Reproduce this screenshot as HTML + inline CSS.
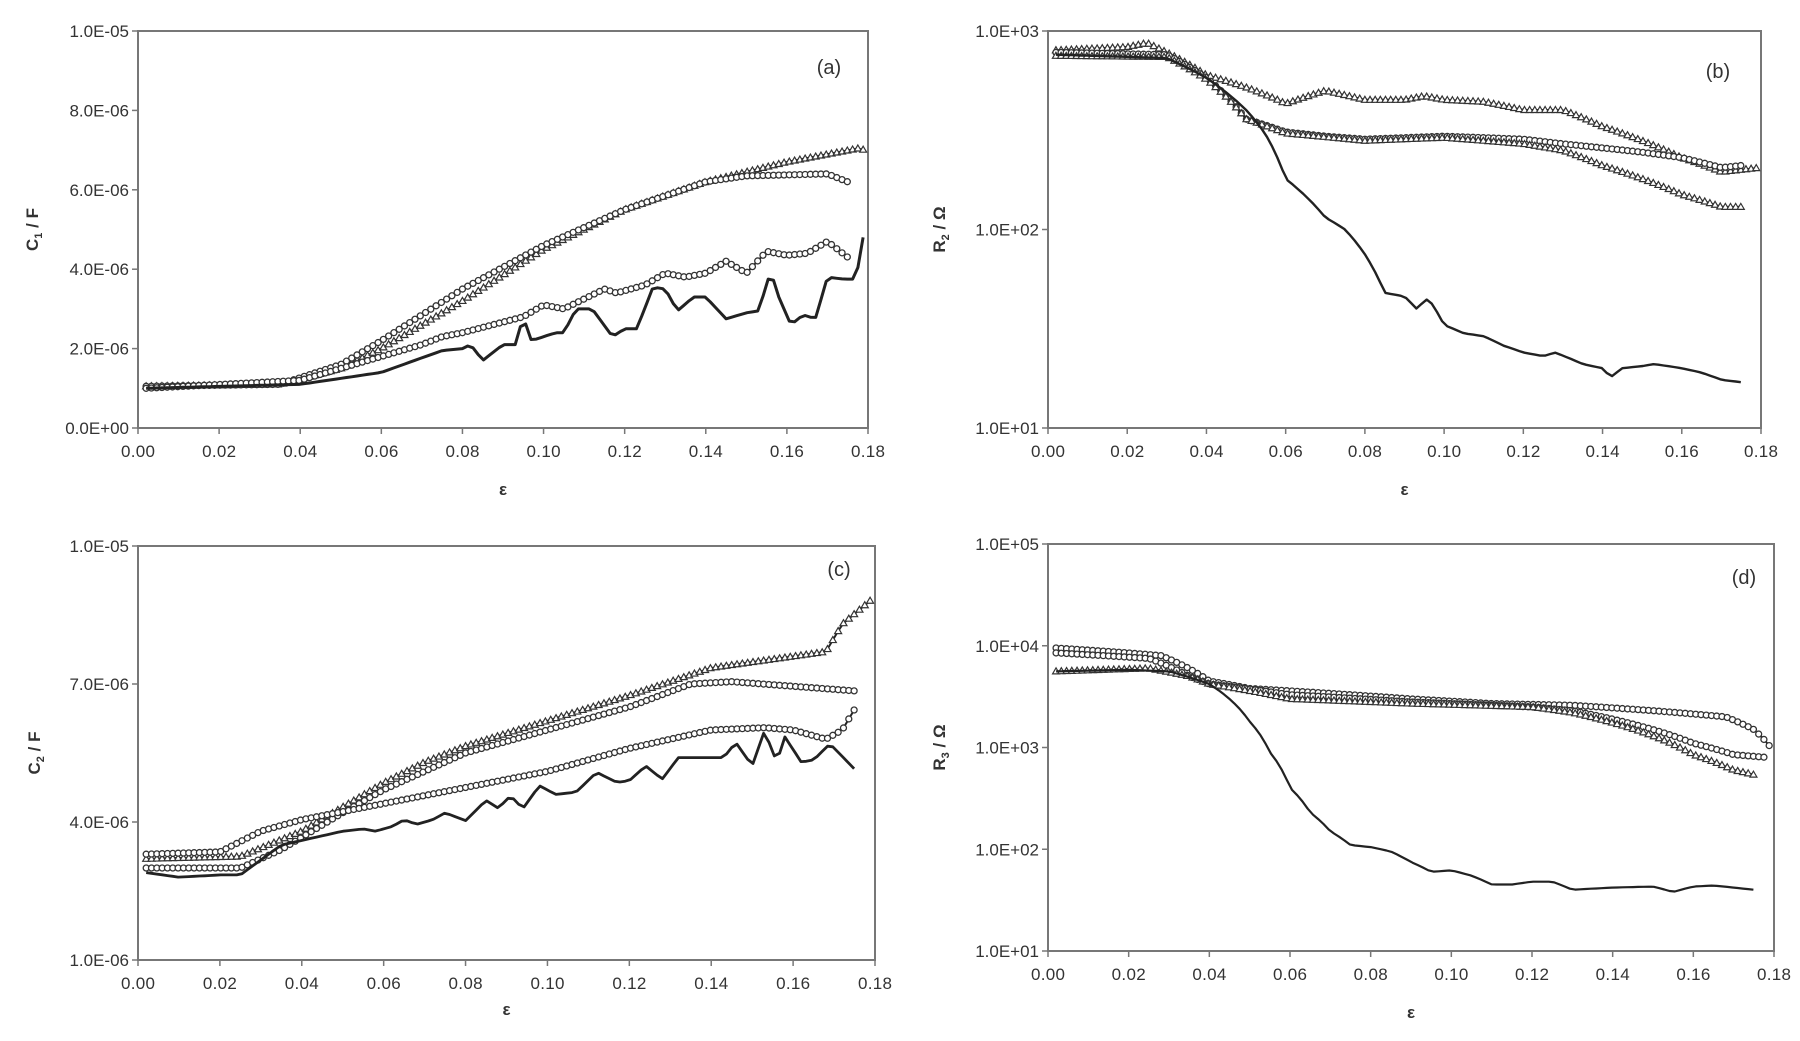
<!DOCTYPE html>
<html><head><meta charset="utf-8"><style>
html,body{margin:0;padding:0;background:#fff;}
svg{display:block;}
text{font-family:"Liberation Sans",Arial,sans-serif;fill:#333;}
</style></head><body>
<svg id="s" width="1800" height="1041" viewBox="0 0 1800 1041" xmlns="http://www.w3.org/2000/svg"></svg>
<script>
var NS="http://www.w3.org/2000/svg",S=document.getElementById('s');
function el(t,a,txt){var e=document.createElementNS(NS,t);for(var k in a)e.setAttribute(k,a[k]);if(txt!==undefined)e.textContent=txt;S.appendChild(e);return e;}
function interp(pts,x){for(var i=0;i<pts.length-1;i++){if(x>=pts[i][0]&&x<=pts[i+1][0]){var t=(x-pts[i][0])/(pts[i+1][0]-pts[i][0]);return pts[i][1]+t*(pts[i+1][1]-pts[i][1]);}}return pts[pts.length-1][1];}
function panel(P){
 var L=P.l,R=P.r,T=P.t,B=P.b;
 function X(x){return L+(x/0.18)*(R-L);}
 function Y(y){if(P.log){var a=Math.log10(P.y0),b=Math.log10(P.y1);return B-(Math.log10(y)-a)/(b-a)*(B-T);}return B-(y-P.y0)/(P.y1-P.y0)*(B-T);}
 el('rect',{x:L,y:T,width:R-L,height:B-T,fill:'none',stroke:'#777','stroke-width':2});
 for(var i=0;i<=9;i++){var x=X(i*0.02);el('line',{x1:x,y1:B,x2:x,y2:B+6,stroke:'#777','stroke-width':1.5});
  el('text',{x:x,y:B+29,'text-anchor':'middle','font-size':17,'textLength':34},(i*0.02).toFixed(2));}
 P.ticks.forEach(function(t){var y=Y(t[0]);el('line',{x1:L-6,y1:y,x2:L,y2:y,stroke:'#777','stroke-width':1.5});
  el('text',{x:L-9,y:y+6,'text-anchor':'end','font-size':17},t[1]);});
 el('text',{x:(L+R)/2,y:P.xl,'text-anchor':'middle','font-size':17,'font-weight':'bold'},'ε');
 var g=el('text',{x:0,y:0,'font-size':17,'font-weight':'bold','text-anchor':'middle',transform:'translate('+P.yx+','+((T+B)/2)+') rotate(-90)'});
 g.innerHTML=P.yl;
 el('text',{x:P.tx,y:P.ty,'font-size':20,'text-anchor':'middle'},P.tag);
 P.series.forEach(function(s){
  var pts=s.p,x0=pts[0][0],x1=pts[pts.length-1][0],d='',mk=[];
  for(var x=x0;x<=x1+1e-9;x+=0.0013){var y=interp(pts,x);d+=(d?'L':'M')+X(x).toFixed(1)+','+Y(y).toFixed(1);mk.push([X(x),Y(y)]);}
  el('path',{d:d,fill:'none',stroke:'#222','stroke-width':s.w||2,'stroke-linejoin':'round'});
  if(s.m){mk.forEach(function(m,i){
   if(s.m=='o')el('circle',{cx:m[0],cy:m[1],r:3,fill:'#fff',stroke:'#333','stroke-width':1.3});
   else el('path',{d:'M'+m[0]+','+(m[1]-3.5)+'l3.5,6h-7z',fill:'#fff',stroke:'#333','stroke-width':1.2});});}
 });
}
panel({l:138,r:868,t:31,b:428,y0:0,y1:10,ticks:[[0,'0.0E+00'],[2,'2.0E-06'],[4,'4.0E-06'],[6,'6.0E-06'],[8,'8.0E-06'],[10,'1.0E-05']],
 xl:495,yx:38,yl:'C<tspan font-size="11" dy="4">1</tspan><tspan dy="-4"> / F</tspan>',tx:829,ty:74,tag:'(a)',
 series:[
 {m:'t',p:[[0.002,1.05],[0.035,1.1],[0.05,1.5],[0.06,2.0],[0.08,3.2],[0.10,4.5],[0.12,5.5],[0.14,6.2],[0.16,6.7],[0.178,7.05],[0.18,6.95]]},
 {m:'o',p:[[0.002,1.05],[0.035,1.1],[0.05,1.6],[0.06,2.2],[0.08,3.5],[0.10,4.6],[0.12,5.5],[0.14,6.2],[0.15,6.35],[0.17,6.4],[0.175,6.2]]},
 {m:'o',p:[[0.002,1.0],[0.04,1.2],[0.06,1.8],[0.07,2.1],[0.075,2.3],[0.08,2.4],[0.095,2.8],[0.1,3.1],[0.105,3.0],[0.115,3.5],[0.118,3.4],[0.125,3.6],[0.13,3.9],[0.135,3.8],[0.14,3.9],[0.145,4.2],[0.15,3.9],[0.155,4.45],[0.16,4.35],[0.165,4.4],[0.17,4.7],[0.175,4.3]]},
 {w:3,p:[[0.002,1.0],[0.04,1.1],[0.06,1.4],[0.075,1.95],[0.08,2.0],[0.082,2.1],[0.085,1.7],[0.09,2.1],[0.093,2.1],[0.095,2.8],[0.097,2.2],[0.103,2.4],[0.105,2.4],[0.108,3.0],[0.112,3.0],[0.117,2.3],[0.12,2.5],[0.123,2.5],[0.127,3.55],[0.13,3.5],[0.133,2.95],[0.137,3.3],[0.14,3.3],[0.145,2.75],[0.15,2.9],[0.153,2.95],[0.156,3.95],[0.158,3.3],[0.161,2.6],[0.164,2.85],[0.167,2.75],[0.17,3.8],[0.174,3.75],[0.177,3.75],[0.18,5.5]]}
 ]});
panel({l:1048,r:1761,t:31,b:428,log:1,y0:10,y1:1000,ticks:[[10,'1.0E+01'],[100,'1.0E+02'],[1000,'1.0E+03']],
 xl:495,yx:945,yl:'R<tspan font-size="11" dy="4">2</tspan><tspan dy="-4"> / Ω</tspan>',tx:1718,ty:78,tag:'(b)',
 series:[
 {m:'t',p:[[0.002,800],[0.02,830],[0.025,870],[0.03,780],[0.04,600],[0.05,520],[0.058,450],[0.06,430],[0.07,500],[0.08,450],[0.09,450],[0.095,470],[0.1,450],[0.11,440],[0.12,400],[0.13,400],[0.14,330],[0.15,280],[0.16,230],[0.17,195],[0.18,205]]},
 {m:'o',p:[[0.002,780],[0.03,760],[0.04,580],[0.05,360],[0.06,310],[0.07,295],[0.08,285],[0.1,295],[0.12,285],[0.13,270],[0.15,245],[0.16,230],[0.17,205],[0.175,210]]},
 {m:'t',p:[[0.002,750],[0.03,740],[0.04,570],[0.05,360],[0.06,305],[0.08,280],[0.1,290],[0.12,270],[0.13,250],[0.14,210],[0.15,180],[0.16,150],[0.17,130],[0.175,130]]},
 {w:2.4,p:[[0.002,760],[0.03,730],[0.04,580],[0.05,400],[0.055,300],[0.06,180],[0.07,115],[0.075,100],[0.08,75],[0.085,48],[0.09,46],[0.093,40],[0.096,45],[0.1,33],[0.105,30],[0.11,29],[0.115,26],[0.12,24],[0.125,23],[0.128,24],[0.135,21],[0.14,20],[0.142,18],[0.145,20],[0.15,20.5],[0.153,21],[0.16,20],[0.165,19],[0.17,17.5],[0.175,17]]}
 ]});
panel({l:138,r:875,t:546,b:960,y0:1,y1:10,ticks:[[1,'1.0E-06'],[4,'4.0E-06'],[7,'7.0E-06'],[10,'1.0E-05']],
 xl:1015,yx:40,yl:'C<tspan font-size="11" dy="4">2</tspan><tspan dy="-4"> / F</tspan>',tx:839,ty:576,tag:'(c)',
 series:[
 {m:'t',p:[[0.002,3.2],[0.025,3.25],[0.04,3.8],[0.06,4.85],[0.07,5.3],[0.08,5.65],[0.1,6.2],[0.12,6.75],[0.14,7.35],[0.16,7.6],[0.168,7.7],[0.172,8.3],[0.18,8.9]]},
 {m:'o',p:[[0.002,3.0],[0.025,3.0],[0.035,3.4],[0.05,4.2],[0.06,4.7],[0.08,5.5],[0.1,6.0],[0.12,6.5],[0.135,7.0],[0.145,7.05],[0.16,6.95],[0.175,6.85]]},
 {m:'o',p:[[0.002,3.3],[0.02,3.35],[0.03,3.8],[0.04,4.05],[0.06,4.4],[0.08,4.75],[0.1,5.1],[0.12,5.6],[0.14,6.0],[0.153,6.05],[0.16,6.0],[0.168,5.8],[0.172,6.0],[0.175,6.45]]},
 {w:2.8,p:[[0.002,2.9],[0.01,2.8],[0.02,2.85],[0.025,2.85],[0.035,3.5],[0.04,3.6],[0.045,3.7],[0.05,3.8],[0.055,3.85],[0.058,3.8],[0.062,3.9],[0.065,4.05],[0.068,3.95],[0.072,4.05],[0.075,4.2],[0.08,4.03],[0.085,4.47],[0.088,4.3],[0.091,4.57],[0.094,4.29],[0.098,4.79],[0.102,4.6],[0.107,4.65],[0.112,5.08],[0.117,4.86],[0.12,4.9],[0.124,5.22],[0.128,4.93],[0.132,5.4],[0.14,5.4],[0.143,5.4],[0.146,5.73],[0.15,5.22],[0.153,5.98],[0.156,5.3],[0.158,5.85],[0.162,5.3],[0.165,5.35],[0.169,5.7],[0.175,5.15]]}
 ]});
panel({l:1048,r:1774,t:544,b:951,log:1,y0:10,y1:100000,ticks:[[10,'1.0E+01'],[100,'1.0E+02'],[1000,'1.0E+03'],[10000,'1.0E+04'],[100000,'1.0E+05']],
 xl:1018,yx:945,yl:'R<tspan font-size="11" dy="4">3</tspan><tspan dy="-4"> / Ω</tspan>',tx:1744,ty:584,tag:'(d)',
 series:[
 {m:'o',p:[[0.002,9500],[0.02,8500],[0.028,8000],[0.04,4500],[0.05,3800],[0.07,3400],[0.09,3000],[0.11,2700],[0.13,2600],[0.15,2300],[0.168,2000],[0.175,1500],[0.18,900]]},
 {m:'o',p:[[0.002,8500],[0.025,7500],[0.035,5000],[0.04,4200],[0.06,3300],[0.09,2800],[0.12,2500],[0.13,2300],[0.15,1500],[0.16,1100],[0.17,850],[0.178,800]]},
 {m:'t',p:[[0.002,5600],[0.025,6000],[0.035,5000],[0.04,4200],[0.06,3000],[0.09,2700],[0.12,2500],[0.13,2200],[0.15,1300],[0.16,850],[0.17,600],[0.175,540]]},
 {w:2.2,p:[[0.002,5600],[0.02,5800],[0.03,5600],[0.04,4200],[0.045,3000],[0.05,1800],[0.055,900],[0.06,400],[0.065,230],[0.07,150],[0.075,110],[0.08,105],[0.085,95],[0.09,75],[0.095,60],[0.1,62],[0.105,55],[0.11,45],[0.115,45],[0.12,48],[0.125,48],[0.13,40],[0.14,42],[0.15,43],[0.155,38],[0.16,43],[0.165,44],[0.17,42],[0.175,40]]}
 ]});
</script>
</body></html>
